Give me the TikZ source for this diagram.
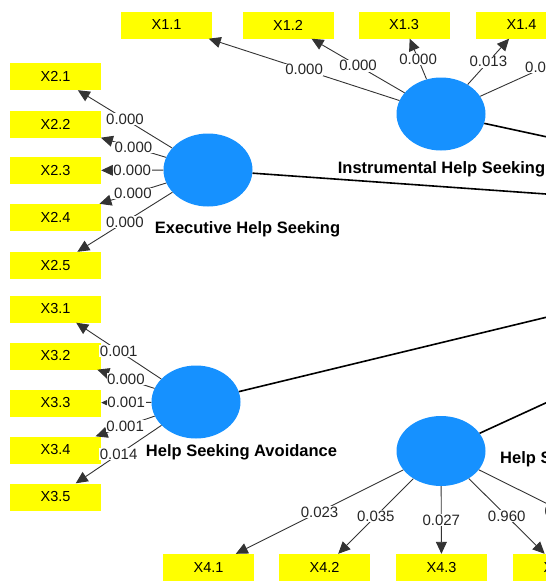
\documentclass[tikz,border=0pt]{standalone}
\usepackage{fontspec}
\setmainfont{Liberation Sans}
\usepackage{tikz}
\usetikzlibrary{arrows.meta,shapes.geometric,positioning}
\definecolor{lvblue}{RGB}{22,145,255}
\definecolor{mvyellow}{RGB}{255,255,0}

\begin{document}
\begin{tikzpicture}[
    x=1pt, y=-1pt,
    lv/.style={ellipse, fill=lvblue, minimum width=89pt, minimum height=73pt, inner sep=0pt},
    mv/.style={rectangle, fill=mvyellow, minimum width=91pt, minimum height=27pt,
               inner sep=0pt, font=\fontsize{14.5}{16}\selectfont},
    load/.style={draw=black!80, line width=0.9pt, -{Triangle[length=12pt,width=11pt]}},
    coef/.style={draw=black, line width=1.6pt, -{Triangle[length=12pt,width=11pt]}},
    val/.style={fill=white, inner sep=0.6pt, text=black!85, font=\fontsize{15}{16}\selectfont},
    lvname/.style={anchor=base, inner sep=0pt, font=\bfseries\fontsize{16.5}{18}\selectfont}
]
    \useasboundingbox (0,0) rectangle (546,581);
    \clip (0,0) rectangle (546,581);

    % Latent variables
    \node[lv] (ihs) at (441,114) {};
    \node[lv] (ehs) at (208,170) {};
    \node[lv] (hsa) at (196,402) {};
    \node[lv, minimum height=70pt] (hss) at (441,451) {};
    \coordinate (dep) at (940,222);

    \node[lvname] (ihsname) at (441.5,173) {Instrumental Help Seeking};
    \node[lvname] (ehsname) at (247.5,233) {Executive Help Seeking};
    \node[lvname] (hsaname) at (241.5,456) {Help Seeking Avoidance};
    \node[lvname, anchor=base west] (hssname) at (500,463) {Help Seeking};

    % Indicators
    \foreach \n/\x in {1/166.5,2/288,3/404,4/521.5,5/638}
        \node[mv] (x1\n) at (\x,25) {X1.\n};
    \foreach \n/\y in {1/76.5,2/124,3/170.5,4/217.5,5/265.5}
        \node[mv] (x2\n) at (55.5,\y) {X2.\n};
    \foreach \n/\y in {1/309,2/356,3/403,4/450,5/497}
        \node[mv] (x3\n) at (55.5,\y) {X3.\n};
    \foreach \n/\x in {1/208.5,2/324.5,3/441.5,4/558.5,5/675.5}
        \node[mv] (x4\n) at (\x,567.5) {X4.\n};

    % Structural paths
    \draw[coef] (ihs) -- (dep);
    \draw[coef] (ehs) -- (dep);
    \draw[coef] (hsa) -- (dep);
    \draw[coef] (hss) -- (dep);

    % Loadings with p values
    \foreach \n/\v in {1/0.000,2/0.000,3/0.000,4/0.013,5/{0.0\phantom{00}}}
        \draw[load] (ihs) -- node[val] (p1\n) {\v} (x1\n);
    \foreach \n/\v in {1/0.000,2/0.000,3/0.000,4/0.000,5/0.000}
        \draw[load] (ehs) -- node[val] (p2\n) {\v} (x2\n);
    \foreach \n/\v in {1/0.001,2/0.000,3/0.001,4/0.001,5/0.014}
        \draw[load] (hsa) -- node[val] (p3\n) {\v} (x3\n);
    \foreach \n/\v in {1/0.023,2/0.035,3/0.027,4/0.960,5/{0\phantom{.000}}}
        \draw[load] (hss) -- node[val] (p4\n) {\v} (x4\n);
\end{tikzpicture}
\end{document}
